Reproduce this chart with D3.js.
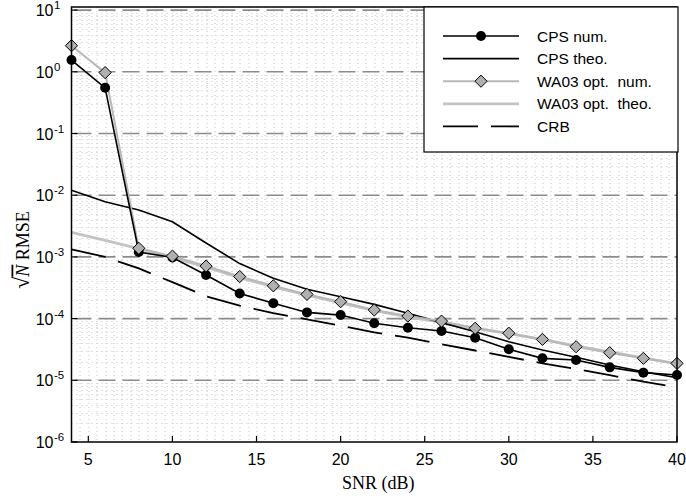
<!DOCTYPE html>
<html>
<head>
<meta charset="utf-8">
<script src="https://cdn.jsdelivr.net/npm/d3@7"></script>
<style>
  body { margin: 0; background: #fff; }
  svg { display: block; }
  .tick-label { font-family: "Liberation Sans", Arial, sans-serif; font-size: 16px; fill: #000; }
  .legend-text { font-family: "Liberation Sans", Arial, sans-serif; font-size: 15.5px; fill: #000; white-space: pre; }
  .axis-title { font-family: "Liberation Serif", "Times New Roman", serif; font-size: 18px; fill: #000; }
</style>
</head>
<body>
<figure id="chart" style="margin:0"></figure>
<script>
// data
var snr = [4, 6, 8, 10, 12, 14, 16, 18, 20, 22, 24, 26, 28, 30, 32, 34, 36, 38, 40];
var cpsNum  = [1.55, 0.55, 1.2e-3, 9.8e-4, 5.1e-4, 2.56e-4, 1.77e-4, 1.26e-4, 1.14e-4, 8.4e-5, 7.1e-5, 6.3e-5, 4.9e-5, 3.18e-5, 2.27e-5, 2.13e-5, 1.62e-5, 1.33e-5, 1.22e-5];
var cpsTheo = [1.2e-2, 7.85e-3, 5.75e-3, 3.7e-3, 1.68e-3, 7.8e-4, 4.5e-4, 3.0e-4, 2.26e-4, 1.7e-4, 1.22e-4, 8.6e-5, 6.1e-5, 4.2e-5, 3.1e-5, 2.36e-5, 1.77e-5, 1.38e-5, 1.1e-5];
var wa03Num = [2.65, 0.97, 1.38e-3, 1.03e-3, 7.1e-4, 4.8e-4, 3.4e-4, 2.47e-4, 1.88e-4, 1.38e-4, 1.10e-4, 9.1e-5, 6.96e-5, 5.8e-5, 4.6e-5, 3.5e-5, 2.8e-5, 2.27e-5, 1.88e-5];
var wa03Theo = [2.5e-3, 1.85e-3, 1.36e-3, 9.8e-4, 6.8e-4, 4.6e-4, 3.25e-4, 2.4e-4, 1.8e-4, 1.35e-4, 1.07e-4, 8.7e-5, 7.0e-5, 5.7e-5, 4.6e-5, 3.6e-5, 2.9e-5, 2.3e-5, 1.85e-5];
var crb = [1.33e-3, 1.0e-3, 6.5e-4, 3.9e-4, 2.3e-4, 1.62e-4, 1.23e-4, 9.7e-5, 7.7e-5, 6.0e-5, 4.9e-5, 3.83e-5, 3.04e-5, 2.4e-5, 1.88e-5, 1.52e-5, 1.21e-5, 9.5e-6, 7.7e-6];

var xTicks = [5, 10, 15, 20, 25, 30, 35, 40];
var yExponents = [-6, -5, -4, -3, -2, -1, 0, 1];
var legendLabels = ["CPS num.", "CPS theo.", "WA03 opt.  num.", "WA03 opt.  theo.", "CRB"];

var dimensions = {
    width: 686,
    height: 499,
    margin: {
        top: 7,
        right: 9,
        bottom: 57,
        left: 71.5,
    },
};
dimensions.boundedWidth = dimensions.width - dimensions.margin.left - dimensions.margin.right;
dimensions.boundedHeight = dimensions.height - dimensions.margin.top - dimensions.margin.bottom;

var svg = d3.select("figure#chart")
    .append("svg")
    .attr("width", dimensions.width)
    .attr("height", dimensions.height)
    .append("g")
    .attr("transform", `translate(${dimensions.margin.left},${dimensions.margin.top})`);

var xScale = d3.scaleLinear()
    .domain([4, 40])
    .range([0, dimensions.boundedWidth]);

// one decade is ~61.7px, the top of the box sits a bit above 10^1
var topExp = -6 + dimensions.boundedHeight / 61.7;
var yScale = d3.scaleLog()
    .domain([1e-6, Math.pow(10, topExp)])
    .range([dimensions.boundedHeight, 0]);

// minor grid (dotted)
var xMinor = d3.range(4.5, 40, 0.5);
svg.append("g").selectAll("line")
    .data(xMinor)
    .enter()
    .append("line")
    .attr("x1", d => Math.round(xScale(d)) + 0.5).attr("x2", d => Math.round(xScale(d)) + 0.5)
    .attr("y1", 0).attr("y2", dimensions.boundedHeight)
    .attr("stroke", "#c4c4c4")
    .attr("stroke-width", 1)
    .attr("stroke-dasharray", "1,3");

var yMinor = [];
yExponents.forEach(function(e) {
    for (var k = 2; k <= 9; k++) {
        var v = k * Math.pow(10, e);
        if (v < yScale.domain()[1]) yMinor.push(v);
    }
});
svg.append("g").selectAll("line")
    .data(yMinor)
    .enter()
    .append("line")
    .attr("x1", 0).attr("x2", dimensions.boundedWidth)
    .attr("y1", d => Math.round(yScale(d)) + 0.5).attr("y2", d => Math.round(yScale(d)) + 0.5)
    .attr("stroke", "#c4c4c4")
    .attr("stroke-width", 1)
    .attr("stroke-dasharray", "1,4");

// major grid (dashed)
svg.append("g").selectAll("line")
    .data(yExponents.slice(1))
    .enter()
    .append("line")
    .attr("x1", 0).attr("x2", dimensions.boundedWidth)
    .attr("y1", d => yScale(Math.pow(10, d))).attr("y2", d => yScale(Math.pow(10, d)))
    .attr("stroke", "#8c8c8c")
    .attr("stroke-width", 1.6)
    .attr("stroke-dasharray", "17,7")
    .attr("stroke-dashoffset", -3);

var line = d3.line()
    .x((d, i) => xScale(snr[i]))
    .y(d => yScale(d));

// series
svg.append("path").datum(crb)
    .attr("d", line).attr("fill", "none")
    .attr("stroke", "#000").attr("stroke-width", 1.8)
    .attr("stroke-dasharray", "35,13");

svg.append("path").datum(wa03Theo)
    .attr("d", line).attr("fill", "none")
    .attr("stroke", "#c4c4c4").attr("stroke-width", 2.8);

svg.append("path").datum(cpsTheo)
    .attr("d", line).attr("fill", "none")
    .attr("stroke", "#000").attr("stroke-width", 1.6);

svg.append("path").datum(wa03Num)
    .attr("d", line).attr("fill", "none")
    .attr("stroke", "#b8b8b8").attr("stroke-width", 2);

svg.append("path").datum(cpsNum)
    .attr("d", line).attr("fill", "none")
    .attr("stroke", "#000").attr("stroke-width", 1.6);

var diamond = d3.symbol().type(d3.symbolDiamond2).size(95);

svg.selectAll("circle.cps")
    .data(cpsNum)
    .enter()
    .append("circle")
    .attr("class", "cps")
    .attr("cx", (d, i) => xScale(snr[i]))
    .attr("cy", d => yScale(d))
    .attr("r", 5)
    .attr("fill", "#000");

svg.selectAll("path.wa")
    .data(wa03Num)
    .enter()
    .append("path")
    .attr("class", "wa")
    .attr("d", diamond)
    .attr("transform", (d, i) => `translate(${xScale(snr[i])},${yScale(d)})`)
    .attr("fill", "#b0b0b0")
    .attr("stroke", "#000")
    .attr("stroke-width", 1);

// box
svg.append("rect")
    .attr("x", 0).attr("y", 0)
    .attr("width", dimensions.boundedWidth)
    .attr("height", dimensions.boundedHeight)
    .attr("fill", "none")
    .attr("stroke", "#000")
    .attr("stroke-width", 1.5);

// ticks (inward)
svg.append("g").selectAll("line")
    .data(xTicks)
    .enter()
    .append("line")
    .attr("x1", d => xScale(d)).attr("x2", d => xScale(d))
    .attr("y1", dimensions.boundedHeight).attr("y2", dimensions.boundedHeight - 6)
    .attr("stroke", "#000").attr("stroke-width", 1.2);

svg.append("g").selectAll("line")
    .data(yExponents)
    .enter()
    .append("line")
    .attr("x1", 0).attr("x2", 6)
    .attr("y1", d => yScale(Math.pow(10, d))).attr("y2", d => yScale(Math.pow(10, d)))
    .attr("stroke", "#000").attr("stroke-width", 1.2);

// tick labels
svg.append("g").selectAll("text")
    .data(xTicks)
    .enter()
    .append("text")
    .attr("class", "tick-label")
    .attr("x", d => xScale(d))
    .attr("y", dimensions.boundedHeight + 23)
    .attr("text-anchor", "middle")
    .text(d => d);

var yLab = svg.append("g").selectAll("g")
    .data(yExponents)
    .enter()
    .append("g")
    .attr("transform", d => `translate(-18,${yScale(Math.pow(10, d))})`);
yLab.append("text")
    .attr("class", "tick-label")
    .attr("text-anchor", "end")
    .attr("y", 6)
    .text("10");
yLab.append("text")
    .attr("class", "tick-label")
    .style("font-size", "11.5px")
    .attr("x", 0.5)
    .attr("y", -1)
    .text(d => d);

// axis titles
svg.append("text")
    .attr("class", "axis-title")
    .attr("x", dimensions.boundedWidth / 2 + 4)
    .attr("y", dimensions.boundedHeight + 47)
    .attr("text-anchor", "middle")
    .text("SNR (dB)");

var yTitle = svg.append("text")
    .attr("class", "axis-title")
    .attr("text-anchor", "middle")
    .attr("transform", `translate(${-43},${243}) rotate(-90)`);
yTitle.append("tspan").style("font-size", "22px").text("\u221A");
yTitle.append("tspan")
    .style("font-style", "italic")
    .style("text-decoration", "overline")
    .text("N");
yTitle.append("tspan").text("  RMSE");

// legend
var legend = svg.append("g")
    .attr("transform", `translate(${424 - dimensions.margin.left},${0})`);
legend.append("rect")
    .attr("width", 254).attr("height", 145)
    .attr("fill", "#fff")
    .attr("stroke", "#000")
    .attr("stroke-width", 1.2);

var legendStyles = [
    { stroke: "#000", width: 1.6, dash: null, marker: "circle" },
    { stroke: "#000", width: 1.6, dash: null, marker: null },
    { stroke: "#b8b8b8", width: 2, dash: null, marker: "diamond" },
    { stroke: "#c4c4c4", width: 2.8, dash: null, marker: null },
    { stroke: "#000", width: 1.8, dash: "35,13", marker: null },
];

var rows = legend.selectAll("g.row")
    .data(legendLabels)
    .enter()
    .append("g")
    .attr("class", "row")
    .attr("transform", (d, i) => `translate(0,${29 + i * 22.6})`);

rows.append("line")
    .attr("x1", 19).attr("x2", 95)
    .attr("stroke", (d, i) => legendStyles[i].stroke)
    .attr("stroke-width", (d, i) => legendStyles[i].width)
    .attr("stroke-dasharray", (d, i) => legendStyles[i].dash);

rows.filter((d, i) => legendStyles[i].marker === "circle")
    .append("circle")
    .attr("cx", 57).attr("r", 5).attr("fill", "#000");

rows.filter((d, i) => legendStyles[i].marker === "diamond")
    .append("path")
    .attr("d", diamond)
    .attr("transform", "translate(57,0)")
    .attr("fill", "#b0b0b0")
    .attr("stroke", "#000");

rows.append("text")
    .attr("class", "legend-text")
    .attr("x", 113)
    .attr("y", 5.5)
    .text(d => d);
</script>
</body>
</html>
